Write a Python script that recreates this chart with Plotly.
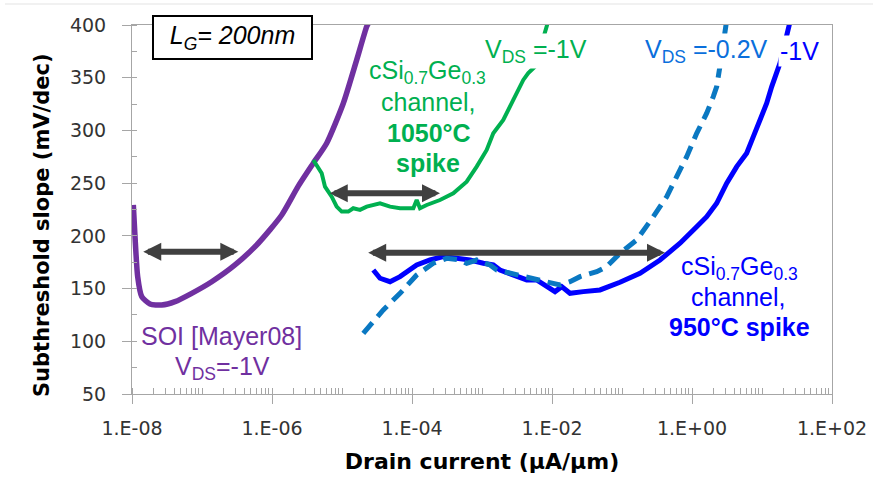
import plotly.graph_objects as go

# ---------------- data (x given as log10 of drain current, uA/um) ----------------
soi_logI = [-7.981, -7.957, -7.919, -7.861, -7.743, -7.576, -7.386, -7.147, -6.861,
            -6.529, -6.196, -5.861, -5.629, -5.410, -5.219, -4.981, -4.790, -4.647, -4.620]
soi_ss = [229.3, 199.2, 161.3, 142.3, 135.4, 134.4, 137.6, 145.5, 156.5,
          172.4, 193.0, 219.8, 246.7, 268.9, 287.9, 325.8, 366.9, 398.5, 402.0]

g1050_logI = [-5.410, -5.290, -5.243, -5.147, -5.076, -5.004, -4.910, -4.839, -4.743, -4.647,
              -4.457, -4.314, -4.171, -3.981, -3.933, -3.886, -3.790, -3.600, -3.410, -3.219,
              -3.076, -2.933, -2.839, -2.696, -2.553, -2.410, -2.339, -2.243, -2.057]
g1050_ss = [272.0, 259.4, 246.7, 237.2, 227.7, 223.0, 223.0, 226.2, 224.6, 227.7,
            230.9, 227.7, 226.2, 226.2, 234.1, 226.2, 229.3, 234.0, 240.4, 251.4,
            265.7, 281.5, 297.3, 310.0, 328.9, 347.9, 354.3, 360.5, 403.0]

b950_1v_logI = [-4.553, -4.457, -4.314, -4.171, -3.933, -3.743, -3.553, -3.361, -3.171, -2.981,
                -2.839, -2.743, -2.553, -2.361, -2.219, -2.076, -1.957, -1.861, -1.743, -1.553,
                -1.314, -1.029, -0.743, -0.457, -0.171, 0.067, 0.210, 0.353, 0.496, 0.639,
                0.781, 0.876, 0.971, 1.067, 1.139, 1.210, 1.257, 1.400]
b950_1v_ss = [167.6, 159.8, 156.5, 161.3, 172.4, 177.1, 180.3, 178.7, 177.1, 174.0,
              172.4, 167.6, 162.9, 158.2, 158.2, 151.8, 147.1, 151.8, 145.5, 147.1,
              148.7, 156.0, 164.5, 177.1, 193.0, 208.7, 218.2, 230.9, 249.9, 265.7,
              278.4, 294.1, 310.0, 325.8, 341.6, 357.4, 363.8, 403.0]

b950_02v_logI = [-4.696, -4.410, -4.171, -3.933, -3.696, -3.504, -3.314, -3.219, -3.076, -2.886,
                 -2.790, -2.600, -2.410, -2.219, -2.029, -1.886, -1.743, -1.600, -1.361, -1.219,
                 -1.029, -0.790, -0.553, -0.361, -0.219, -0.076, 0.067, 0.210, 0.304, 0.353,
                 0.414, 0.496]
b950_02v_ss = [107.6, 129.7, 145.5, 162.9, 174.0, 178.7, 177.1, 174.0, 177.1, 172.4,
               167.6, 164.5, 161.3, 158.2, 155.0, 153.4, 156.5, 161.3, 166.0, 170.8,
               183.5, 196.1, 218.2, 237.2, 256.2, 275.1, 297.3, 316.3, 332.1, 341.6,
               366.9, 404.8]

# double-headed arrows (log10 current range at given SS)
arrow_left = [-7.861, -5.196, -4.647]
arrow_right = [-6.481, -3.600, -0.386]
arrow_ss = [185.0, 240.4, 184.0]

x_tickvals = [1e-8, 1e-6, 1e-4, 1e-2, 1e0, 1e2]
x_ticktext = ["1.E-08", "1.E-06", "1.E-04", "1.E-02", "1.E+00", "1.E+02"]
y_tickvals = [50, 100, 150, 200, 250, 300, 350, 400]

PURPLE = "#7030A0"
GREEN = "#00B050"
BLUE = "#0000FF"
LBLUE = "#0A78C2"
LBLUE_TXT = "#0A6FDC"
AX = "#A6A6A6"
ARROW = "#404040"

fig = go.Figure()
fig.add_trace(go.Scatter(x=[10 ** v for v in soi_logI], y=soi_ss, mode="lines",
                         line=dict(color=PURPLE, width=5.5, shape="spline", smoothing=0.6)))
fig.add_trace(go.Scatter(x=[10 ** v for v in g1050_logI], y=g1050_ss, mode="lines",
                         line=dict(color=GREEN, width=4)))
fig.add_trace(go.Scatter(x=[10 ** v for v in b950_1v_logI], y=b950_1v_ss, mode="lines",
                         line=dict(color=BLUE, width=5)))
fig.add_trace(go.Scatter(x=[10 ** v for v in b950_02v_logI], y=b950_02v_ss, mode="lines",
                         line=dict(color=LBLUE, width=5, dash="14px,8px")))

# plot area in pixels
L, R, T, B = 132, 832, 25, 394
W, H = R - L, B - T


def P(px, py):
    return (px - L) / W, (B - py) / H


ann = []
for a, b, s in zip(arrow_left, arrow_right, arrow_ss):
    ann.append(dict(x=b, y=s, ax=a, ay=s, xref="x", yref="y", axref="x", ayref="y",
                    text="", showarrow=True, arrowhead=2, startarrowhead=2,
                    arrowside="end+start", arrowsize=0.6, startarrowsize=0.6,
                    arrowwidth=6, arrowcolor=ARROW, standoff=0, startstandoff=0))

FONT = "Liberation Sans, Arial, sans-serif"


def txt(px, py, text, color, size=25, family=FONT, **kw):
    x, y = P(px, py)
    d = dict(x=x, y=y, xref="paper", yref="paper", text=text, showarrow=False,
             font=dict(family=family, size=size, color=color),
             xanchor="center", yanchor="middle")
    d.update(kw)
    ann.append(d)


# L_G box
txt(232, 37.5, "<i>L<sub>G</sub>= 200nm</i>", "black", size=25,
    bordercolor="black", borderwidth=2, borderpad=2, bgcolor="white", width=153, height=37)

# SOI labels
txt(221, 336, "SOI [Mayer08]", PURPLE)
txt(222, 368, "V<sub>DS</sub>=-1V", PURPLE)

# green labels
txt(427, 72, "cSi<sub>0.7</sub>Ge<sub>0.3</sub>", GREEN)
txt(428, 102, "channel,", GREEN)
txt(429, 133, "<b>1050°C</b>", GREEN)
txt(428, 163, "<b>spike</b>", GREEN)
txt(536, 51, "V<sub>DS</sub> =-1V", GREEN, bgcolor="white")

# blue labels
txt(706, 51, "V<sub>DS</sub> =-0.2V", LBLUE_TXT, bgcolor="white")
txt(799, 51, "-1V", BLUE, bgcolor="white")
txt(739, 268, "cSi<sub>0.7</sub>Ge<sub>0.3</sub>", BLUE)
txt(738, 297, "channel,", BLUE)
txt(739, 327, "<b>950°C spike</b>", BLUE)

# y-axis title placed as rotated text
txt(42, 225, "<b>Subthreshold slope (mV/dec)</b>", "black", size=21,
    family="DejaVu Sans, sans-serif", textangle=-90)

minor_x = [m * 10.0 ** e for e in range(-8, 2) for m in range(1, 10)] + [100.0]
minor_y = list(range(50, 401, 25))

TICKFONT = dict(family="DejaVu Sans, sans-serif", size=19, color="#333333")
TITLEFONT = dict(family="DejaVu Sans, sans-serif", size=22, color="black", weight="bold")

fig.update_layout(
    width=873, height=480,
    margin=dict(l=L, r=873 - R, t=T, b=480 - B, autoexpand=False),
    paper_bgcolor="white", plot_bgcolor="white",
    showlegend=False,
    annotations=ann,
    shapes=[dict(type="line", xref="paper", yref="paper",
                 x0=(5 - L) / W, x1=(873 - L) / W, y0=(B - 4) / H, y1=(B - 4) / H,
                 line=dict(color="#E3E3E3", width=1))],
    xaxis=dict(type="log", range=[-8, 2], tickmode="array", tickvals=x_tickvals,
               ticktext=x_ticktext, ticks="outside", ticklen=9, tickcolor=AX, tickwidth=1,
               showline=True, linecolor=AX, linewidth=1, mirror=True, automargin=False,
               showgrid=False, zeroline=False, tickfont=TICKFONT, ticklabelstandoff=8,
               minor=dict(tickmode="array", tickvals=minor_x, ticks="inside", ticklen=6,
                          tickcolor=AX, tickwidth=1, showgrid=False),
               title=dict(text="Drain current (μA/μm)", font=TITLEFONT, standoff=15)),
    yaxis=dict(range=[50, 400], tickmode="array", tickvals=y_tickvals,
               ticks="outside", ticklen=9, tickcolor=AX, tickwidth=1,
               showline=True, linecolor=AX, linewidth=1, mirror=True, automargin=False,
               showgrid=False, zeroline=False, tickfont=TICKFONT, ticklabelstandoff=12,
               minor=dict(tickmode="array", tickvals=minor_y, ticks="inside", ticklen=5,
                          tickcolor=AX, tickwidth=1, showgrid=False)),
)

fig.write_html("out.html", config={"displayModeBar": False},
               post_script="document.body.style.margin='0';")
